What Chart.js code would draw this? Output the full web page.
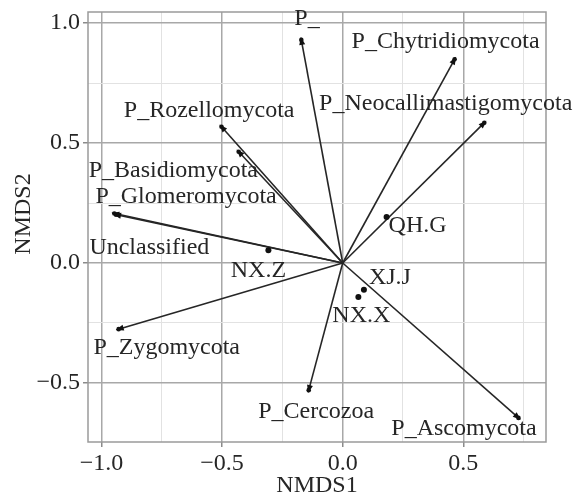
<!DOCTYPE html>
<html>
<head>
<meta charset="utf-8">
<script src="https://cdn.jsdelivr.net/npm/chart.js@4/dist/chart.umd.min.js"></script>
<style>
  html, body { margin: 0; padding: 0; background: #fff; }
  #wrap { width: 586px; height: 500px; }
</style>
</head>
<body>
<div id="wrap"><canvas id="c" width="586" height="500"></canvas></div>
<script>
// ---- data ----
const speciesNames = ["P_", "P_Chytridiomycota", "P_Neocallimastigomycota", "P_Rozellomycota",
  "P_Basidiomycota", "P_Glomeromycota", "Unclassified", "P_Zygomycota", "P_Cercozoa", "P_Ascomycota"];
const speciesX = [-0.173, 0.468, 0.593, -0.508, -0.437, -0.948, -0.955, -0.937, -0.143, 0.735];
const speciesY = [0.938, 0.856, 0.590, 0.574, 0.470, 0.203, 0.208, -0.278, -0.538, -0.651];

const siteNames = ["QH.G", "NX.Z", "XJ.J", "NX.X"];
const siteX = [0.182, -0.308, 0.088, 0.065];
const siteY = [0.192, 0.053, -0.111, -0.142];

const xTickValues = [-1.0, -0.75, -0.5, -0.25, 0.0, 0.25, 0.5, 0.75];
const yTickValues = [-0.5, -0.25, 0.0, 0.25, 0.5, 0.75, 1.0];
const majorTicks = [-1.0, -0.5, 0.0, 0.5, 1.0];

const xTitle = 'NMDS1';
const yTitle = 'NMDS2';

// ---- label styling offsets (pixels from mark to text baseline centre) ----
const speciesLabelOffset = [[6, -13], [-10, -10], [-40, -11], [-11, -8], [-64, 27],
  [72, -11], [37, 41], [50, 24], [8, 26], [-56, 16]];
const siteLabelOffset = [[31, 15], [-10, 27], [26, -6], [3, 25]];

const FONT = '"Liberation Serif", "DejaVu Serif", serif';
const FS = 24;
const INK = '#262626';

function isMajor(v) { return majorTicks.some(m => Math.abs(m - v) < 1e-6); }
function fmt(v) {
  const s = Math.abs(v).toFixed(1);
  return (v < -1e-9 ? '\u2212' : '') + s;
}

const datasets = speciesNames.map((n, i) => ({
  label: n,
  data: [{x: 0, y: 0}, {x: speciesX[i], y: speciesY[i]}],
  showLine: true,
  borderColor: INK,
  borderWidth: 1.6,
  pointRadius: 0,
  pointHoverRadius: 0,
  fill: false,
  order: 2
}));
datasets.push({
  label: 'sites',
  data: siteX.map((x, i) => ({x, y: siteY[i]})),
  showLine: false,
  pointRadius: 3,
  pointBackgroundColor: '#111',
  pointBorderColor: '#111',
  pointBorderWidth: 0,
  order: 1
});

const overlay = {
  id: 'overlay',
  afterDatasetsDraw(chart) {
    const {ctx, chartArea: a, scales: {x, y}} = chart;
    ctx.save();
    // frame
    ctx.strokeStyle = '#9a9a9a';
    ctx.lineWidth = 1.5;
    ctx.strokeRect(a.left, a.top, a.right - a.left, a.bottom - a.top);
    // arrowheads
    ctx.fillStyle = '#111';
    const ox = x.getPixelForValue(0), oy = y.getPixelForValue(0);
    speciesNames.forEach((n, i) => {
      const px = x.getPixelForValue(speciesX[i]);
      const py = y.getPixelForValue(speciesY[i]);
      const ang = Math.atan2(py - oy, px - ox);
      const c = Math.cos(ang), s = Math.sin(ang);
      const L = 7, W = 3;
      ctx.beginPath();
      ctx.moveTo(px + c, py + s);
      ctx.lineTo(px - c * L - s * W, py - s * L + c * W);
      ctx.lineTo(px - c * L + s * W, py - s * L - c * W);
      ctx.closePath();
      ctx.fill();
      ctx.beginPath();
      ctx.arc(px - c * 2, py - s * 2, 2.3, 0, Math.PI * 2);
      ctx.fill();
    });
    // labels
    ctx.font = FS + 'px ' + FONT;
    ctx.fillStyle = INK;
    ctx.textAlign = 'center';
    ctx.textBaseline = 'alphabetic';
    speciesNames.forEach((n, i) => {
      const px = x.getPixelForValue(speciesX[i]);
      const py = y.getPixelForValue(speciesY[i]);
      ctx.fillText(n, px + speciesLabelOffset[i][0], py + speciesLabelOffset[i][1]);
    });
    siteNames.forEach((n, i) => {
      const px = x.getPixelForValue(siteX[i]);
      const py = y.getPixelForValue(siteY[i]);
      ctx.fillText(n, px + siteLabelOffset[i][0], py + siteLabelOffset[i][1]);
    });
    // y axis title
    ctx.translate(24, (a.top + a.bottom) / 2 - 13);
    ctx.rotate(-Math.PI / 2);
    ctx.textBaseline = 'middle';
    ctx.fillText(yTitle, 0, 0);
    ctx.restore();
  }
};

function gridOpts() {
  return {
    color: c => isMajor(c.tick.value) ? '#a8a8a8' : '#e2e2e2',
    lineWidth: c => isMajor(c.tick.value) ? 1.5 : 1,
    tickColor: c => isMajor(c.tick.value) ? '#8a8a8a' : 'rgba(0,0,0,0)',
    tickLength: 5,
    drawTicks: true
  };
}

new Chart(document.getElementById('c'), {
  type: 'scatter',
  data: { datasets },
  options: {
    responsive: false,
    animation: false,
    events: [],
    layout: { padding: { left: 0, right: 40, top: 12, bottom: 0 } },
    plugins: { legend: { display: false }, tooltip: { enabled: false } },
    scales: {
      x: {
        type: 'linear',
        min: -1.056, max: 0.843,
        border: { display: false },
        grid: gridOpts(),
        afterBuildTicks: s => { s.ticks = xTickValues.map(v => ({value: v})); },
        afterFit: s => { s.height = 58; s.paddingLeft = 0; s.paddingRight = 0; },
        ticks: {
          autoSkip: false, maxRotation: 0,
          padding: 2,
          color: INK,
          font: { family: FONT, size: FS },
          callback: v => isMajor(v) ? fmt(v) : ''
        },
        title: { display: true, text: xTitle, color: INK, font: { family: FONT, size: FS }, padding: { top: 0, bottom: 0 } }
      },
      y: {
        type: 'linear',
        min: -0.746, max: 1.046,
        border: { display: false },
        grid: gridOpts(),
        afterBuildTicks: s => { s.ticks = yTickValues.map(v => ({value: v})); },
        afterFit: s => { s.width = 88; s.paddingTop = 0; s.paddingBottom = 0; },
        ticks: {
          autoSkip: false,
          padding: 3,
          color: INK,
          font: { family: FONT, size: FS },
          callback: v => isMajor(v) ? fmt(v) : ''
        },
        title: { display: false }
      }
    }
  },
  plugins: [overlay]
});
</script>
</body>
</html>
